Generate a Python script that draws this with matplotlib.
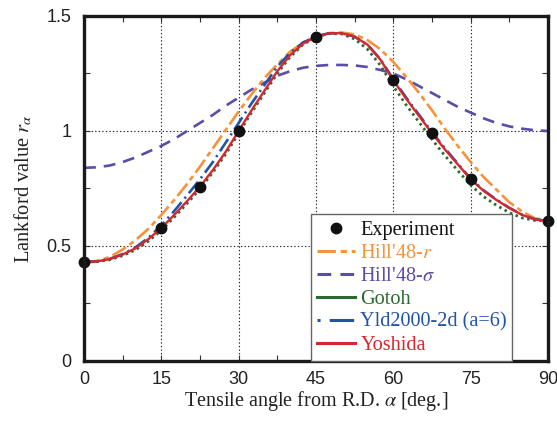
import matplotlib
matplotlib.use("Agg")
import matplotlib.pyplot as plt
from matplotlib.lines import Line2D
from matplotlib.ticker import MultipleLocator, FixedLocator, FixedFormatter

plt.rcParams['mathtext.fontset'] = 'stix'

# ---- data ----
exp_angle = [0, 15, 22.5, 30, 45, 60, 67.5, 75, 90]
exp_r = [0.43, 0.578, 0.758, 1.0, 1.41, 1.22, 0.99, 0.79, 0.61]

ang = [0, 2.5, 5, 7.5, 10, 12.5, 15, 17.5, 20, 22.5, 25, 27.5, 30, 32.5, 35, 37.5,
       40, 42.5, 45, 47.5, 50, 52.5, 55, 57.5, 60, 62.5, 65, 67.5, 70, 72.5, 75,
       77.5, 80, 82.5, 85, 87.5, 90]

hill_r = [0.43, 0.435, 0.452, 0.485, 0.525, 0.575, 0.635, 0.70, 0.77, 0.845, 0.925,
          1.005, 1.085, 1.16, 1.23, 1.29, 1.345, 1.385, 1.41, 1.425, 1.428, 1.42,
          1.395, 1.355, 1.30, 1.235, 1.165, 1.09, 1.01, 0.935, 0.865, 0.80, 0.745,
          0.69, 0.65, 0.62, 0.61]

hill_s = [0.84, 0.842, 0.85, 0.865, 0.885, 0.91, 0.935, 0.965, 1.0, 1.035, 1.07,
          1.11, 1.145, 1.18, 1.21, 1.24, 1.26, 1.275, 1.283, 1.287, 1.287, 1.285,
          1.278, 1.265, 1.25, 1.225, 1.195, 1.165, 1.135, 1.105, 1.08, 1.055, 1.035,
          1.02, 1.01, 1.003, 1.0]

gotoh = [0.43, 0.432, 0.44, 0.458, 0.483, 0.521, 0.568, 0.625, 0.685, 0.748, 0.82,
         0.90, 0.99, 1.08, 1.165, 1.25, 1.322, 1.376, 1.408, 1.424, 1.422, 1.40,
         1.355, 1.285, 1.195, 1.113, 1.038, 0.963, 0.893, 0.828, 0.765, 0.715,
         0.677, 0.645, 0.622, 0.611, 0.61]

yld = [0.43, 0.433, 0.444, 0.465, 0.494, 0.536, 0.59, 0.652, 0.72, 0.79, 0.865,
       0.95, 1.035, 1.12, 1.20, 1.28, 1.34, 1.385, 1.41, 1.425, 1.425, 1.41,
       1.375, 1.312, 1.225, 1.145, 1.07, 0.995, 0.925, 0.858, 0.793, 0.742,
       0.702, 0.666, 0.636, 0.616, 0.61]

yoshida = [0.43, 0.433, 0.443, 0.463, 0.49, 0.53, 0.578, 0.635, 0.695, 0.758, 0.83,
           0.91, 1.0, 1.09, 1.175, 1.26, 1.33, 1.38, 1.41, 1.425, 1.425, 1.41,
           1.375, 1.31, 1.22, 1.14, 1.065, 0.99, 0.92, 0.855, 0.79, 0.74, 0.70,
           0.665, 0.635, 0.615, 0.61]

x_ticks = [0, 15, 30, 45, 60, 75, 90]
x_ticklabels = ['0', '15', '30', '45', '60', '75', '90']
y_ticks = [0, 0.5, 1.0, 1.5]
y_ticklabels = ['0', '0.5', '1', '1.5']

labels = ['Experiment', "Hill'48-$r$", "Hill'48-$\\sigma$", 'Gotoh',
          'Yld2000-2d (a=6)', 'Yoshida']

c_or = '#F7923A'
c_pu = '#5A4DA8'
c_gr = '#2B6A2E'
c_bl = '#2153A8'
c_rd = '#D7262E'

serif = ['Liberation Serif', 'DejaVu Serif']
sans = ['Liberation Sans', 'DejaVu Sans']

fig = plt.figure(figsize=(5.57, 4.25), dpi=100)
ax = fig.add_axes([0.1508, 0.1506, 0.8330, 0.8118])

ls_or = (0, (6, 1.6, 2, 1.6))
ls_pu = (0, (4.5, 3))
ls_gr = (0, (0.9, 1.3))
ls_bl = (0, (5.5, 1.8, 0.8, 1.8))

ax.plot(ang, hill_s, color=c_pu, lw=1.9, ls=ls_pu, zorder=3)
ax.plot(ang, hill_r, color=c_or, lw=1.9, ls=ls_or, zorder=3)
ax.plot(ang, gotoh, color=c_gr, lw=2.0, ls=ls_gr, zorder=4)
ax.plot(ang, yld, color=c_bl, lw=1.9, ls=ls_bl, zorder=4)
ax.plot(ang, yoshida, color=c_rd, lw=1.7, ls='-', zorder=5)
ax.plot(exp_angle, exp_r, 'o', color='#111111', ms=7.5, zorder=6, clip_on=False)

ax.set_xlim(0, 90)
ax.set_ylim(0, 1.5)
ax.xaxis.set_major_locator(FixedLocator(x_ticks))
ax.xaxis.set_major_formatter(FixedFormatter(x_ticklabels))
ax.xaxis.set_minor_locator(MultipleLocator(7.5))
ax.yaxis.set_major_locator(FixedLocator(y_ticks))
ax.yaxis.set_major_formatter(FixedFormatter(y_ticklabels))
ax.yaxis.set_minor_locator(MultipleLocator(0.25))

ax.tick_params(which='both', direction='in', top=True, right=True,
               length=4, width=0.8, color='#333333')
ax.tick_params(axis='x', which='major', pad=7)
ax.tick_params(axis='y', which='major', pad=9)
for lab in ax.get_xticklabels() + ax.get_yticklabels():
    lab.set_fontfamily(sans)
    lab.set_fontsize(13)
    lab.set_color('#222222')

ax.grid(True, which='major', color='#222222', lw=0.8, ls=(0, (1.2, 2.0)))
for sp in ax.spines.values():
    sp.set_linewidth(2.4)
    sp.set_color('#1a1a1a')
    sp.set_zorder(7)

ax.set_xlabel('Tensile angle from R.D. $\\alpha$ [deg.]', fontfamily=serif,
              fontsize=14.5, color='#222222', labelpad=1)
ax.set_ylabel('Lankford value $r_{\\alpha}$', fontfamily=serif,
              fontsize=14.8, color='#222222', labelpad=9)

handles = [
    Line2D([], [], ls='none', marker='o', color='#111111', ms=7.5),
    Line2D([], [], color=c_or, lw=2.2, ls=(0, (6, 1.6, 2, 1.6))),
    Line2D([], [], color=c_pu, lw=2.2, ls=(0, (4.5, 3))),
    Line2D([], [], color=c_gr, lw=2.2, ls='-'),
    Line2D([], [], color=c_bl, lw=2.2, ls=(0, (1, 3, 8, 2))),
    Line2D([], [], color=c_rd, lw=2.2, ls='-'),
]
leg = ax.legend(handles, labels, loc='lower left',
                bbox_to_anchor=(0.4886, 0.0, 0.4332, 0.42), mode='expand',
                prop={'family': serif, 'size': 14.6}, frameon=True,
                fancybox=False, edgecolor='#666666', framealpha=1,
                labelspacing=0.19, handlelength=1.9, handletextpad=0.25,
                borderpad=0.3, borderaxespad=0.0)
leg.get_frame().set_linewidth(1.0)
leg.set_zorder(8)
for txt, col in zip(leg.get_texts(), ['#111111', c_or, c_pu, c_gr, c_bl, c_rd]):
    txt.set_color(col)

fig.savefig('out.png', dpi=100)
